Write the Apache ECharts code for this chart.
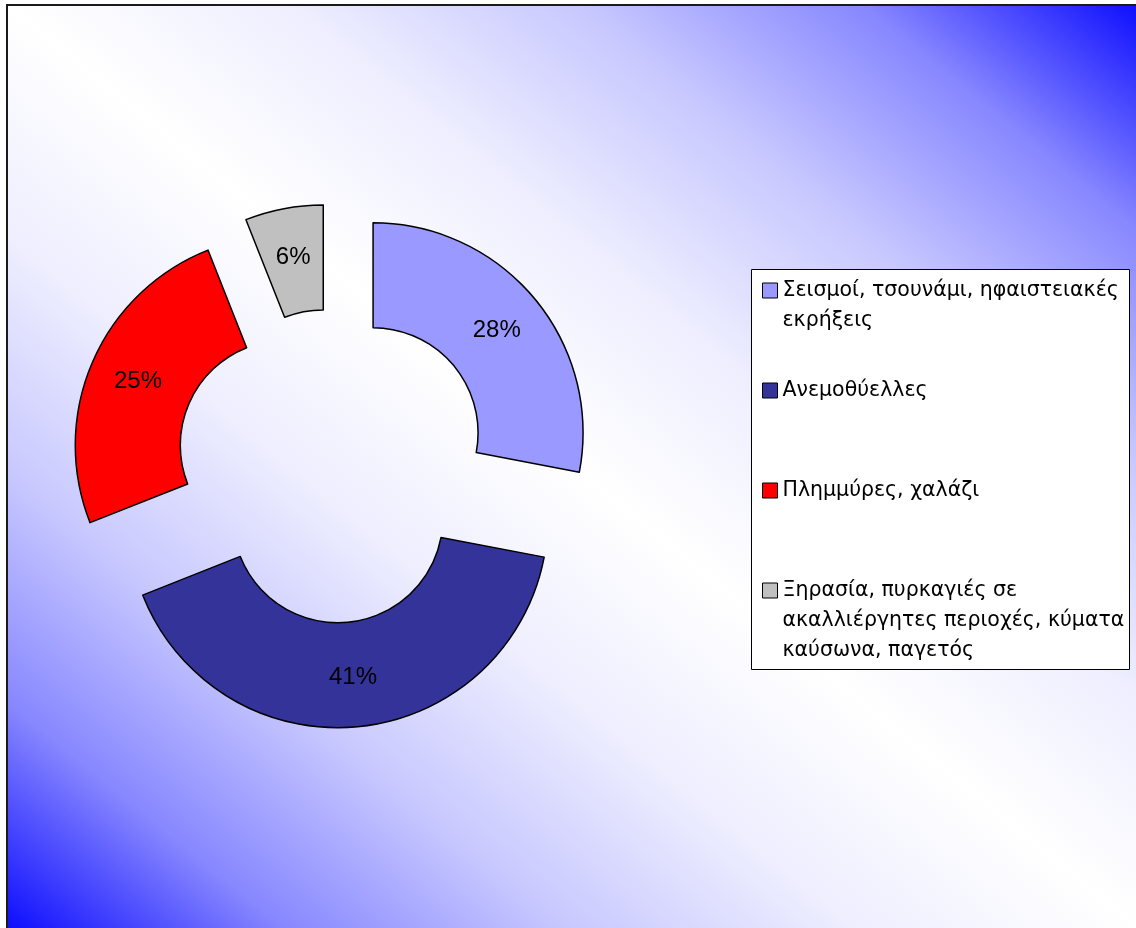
<!DOCTYPE html>
<html>
<head>
<meta charset="utf-8">
<script src="https://cdn.jsdelivr.net/npm/echarts@6/dist/echarts.min.js"></script>
<style>
  html, body { margin: 0; padding: 0; background: #ffffff; }
  #chart { width: 1136px; height: 928px; }
</style>
</head>
<body>
<div id="chart"></div>
<script>
// Shares of natural disasters by type (percent)
const categories = [
  'Σεισμοί, τσουνάμι, ηφαιστειακές εκρήξεις',
  'Ανεμοθύελλες',
  'Πλημμύρες, χαλάζι',
  'Ξηρασία, πυρκαγιές σε ακαλλιέργητες περιοχές, κύματα καύσωνα, παγετός'
];
const shares = [28, 41, 25, 6];
const sliceColors = ['#9999FF', '#333399', '#FF0000', '#C0C0C0'];
// Legend text, split into its printed lines
const legendLines = [
  ['Σεισμοί, τσουνάμι, ηφαιστειακές', 'εκρήξεις'],
  ['Ανεμοθύελλες'],
  ['Πλημμύρες, χαλάζι'],
  ['Ξηρασία, πυρκαγιές σε', 'ακαλλιέργητες περιοχές, κύματα', 'καύσωνα, παγετός']
];

const LABEL_FONT = '"Liberation Sans", Arial, sans-serif';
const LEGEND_FONT = '"DejaVu Sans", "Liberation Sans", sans-serif';
const LINE_H = 30;
const MAX_LINES = 3;     // longest legend entry
const ITEM_STEP = 100;   // distance between legend swatches
// Every legend entry is padded to the same block of lines with its first
// line in the middle, so the swatch sits beside the first line.
const BLOCK_LINES = 2 * MAX_LINES - 1;
const ITEM_BOX = BLOCK_LINES * LINE_H;

// Plot area frame with a diagonal blue-white-blue fill
const frame = { x: 7, y: 5, w: 1140, h: 930 };
const cx = frame.x + frame.w / 2, cy = frame.y + frame.h / 2;
const diag = Math.hypot(frame.w, frame.h);
const half = frame.w * frame.h / diag;
const ux = frame.h / diag, uy = -frame.w / diag;
const blueShade = v => 'rgb(' + v + ',' + v + ',255)';
const bgGradient = new echarts.graphic.LinearGradient(
  cx - half * ux, cy - half * uy, cx + half * ux, cy + half * uy,
  [
    { offset: 0, color: blueShade(10) },
    { offset: 0.125, color: blueShade(135) },
    { offset: 0.25, color: blueShade(200) },
    { offset: 0.375, color: blueShade(238) },
    { offset: 0.5, color: blueShade(255) },
    { offset: 0.625, color: blueShade(238) },
    { offset: 0.75, color: blueShade(200) },
    { offset: 0.875, color: blueShade(135) },
    { offset: 1, color: blueShade(10) }
  ],
  true
);

const legendText = {};
categories.forEach((name, i) => {
  const lines = legendLines[i];
  const above = new Array(MAX_LINES - 1).fill('');
  const below = new Array(BLOCK_LINES - (MAX_LINES - 1) - lines.length).fill('');
  legendText[name] = above.concat(lines, below).join('\n');
});

const chart = echarts.init(document.getElementById('chart'), null, { renderer: 'canvas' });
chart.setOption({
  animation: false,
  backgroundColor: '#ffffff',
  graphic: [
    {
      type: 'rect',
      z: -10,
      silent: true,
      shape: { x: frame.x, y: frame.y, width: frame.w, height: frame.h },
      style: { fill: bgGradient, stroke: '#1a1a1a', lineWidth: 2 }
    },
    {
      type: 'rect',
      z: -5,
      silent: true,
      shape: { x: 751.5, y: 269.5, width: 378, height: 400 },
      style: { fill: '#ffffff', stroke: '#000000', lineWidth: 1 }
    }
  ],
  legend: {
    orient: 'vertical',
    left: 762,
    top: 290.5 - ITEM_BOX / 2,
    padding: 0,
    itemGap: ITEM_STEP - ITEM_BOX,
    itemWidth: 15,
    itemHeight: 15,
    icon: 'rect',
    selectedMode: false,
    itemStyle: { borderColor: '#000000', borderWidth: 1 },
    textStyle: { fontFamily: LEGEND_FONT, fontSize: 20.5, color: '#000000', lineHeight: LINE_H },
    formatter: name => legendText[name],
    data: categories
  },
  series: [
    {
      type: 'pie',
      center: [333, 466],
      radius: [105, 210],
      startAngle: 90,
      clockwise: true,
      selectedMode: 'multiple',
      selectedOffset: 52,
      avoidLabelOverlap: false,
      silent: true,
      emphasis: { disabled: true },
      itemStyle: { borderColor: '#000000', borderWidth: 1.5 },
      select: { itemStyle: { borderColor: '#000000', borderWidth: 1.5 } },
      label: {
        show: true,
        position: 'inside',
        formatter: '{c}%',
        fontFamily: LABEL_FONT,
        fontSize: 24,
        color: '#000000'
      },
      labelLine: { show: false },
      data: categories.map((name, i) => ({
        name: name,
        value: shares[i],
        selected: true,
        itemStyle: { color: sliceColors[i] }
      }))
    }
  ]
});
</script>
</body>
</html>
